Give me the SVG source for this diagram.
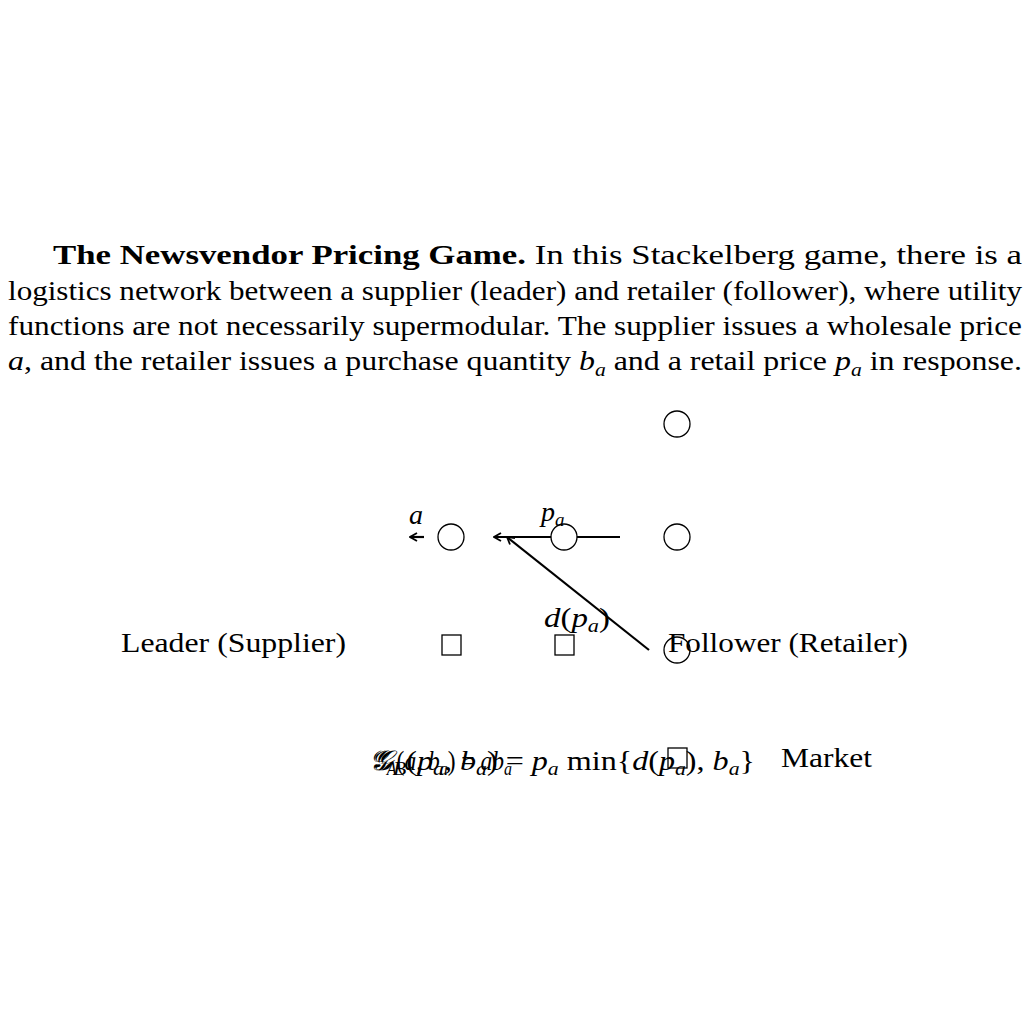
<svg xmlns="http://www.w3.org/2000/svg" width="1024" height="1024" viewBox="0 0 1024 1024">
<style>
text{font-family:"Liberation Serif","DejaVu Serif",serif;fill:#000}
.body{font-size:28px}
.lbl{font-size:28px}
.m{font-style:italic}
.sub{font-size:19px;font-style:italic}
.node{fill:#fff;stroke:#000;stroke-width:1.3}
.edge{stroke:#000;stroke-width:2.2;fill:none}
</style>
<defs>
<marker id="ah" viewBox="0 0 10 10" refX="9" refY="5" markerWidth="10" markerHeight="10" orient="auto" markerUnits="userSpaceOnUse">
<path d="M2,1 L9,5 L2,9" fill="none" stroke="#000" stroke-width="1.8"/>
</marker>
</defs>
<rect width="1024" height="1024" fill="#fff"/>
<g id="title">
<text class="body" x="53" y="264" textLength="969" lengthAdjust="spacingAndGlyphs"><tspan font-weight="bold">The Newsvendor Pricing Game.</tspan> In this Stackelberg game, there is a</text>
<text class="body" x="8" y="300" textLength="1014" lengthAdjust="spacingAndGlyphs">logistics network between a supplier (leader) and retailer (follower), where utility</text>
<text class="body" x="8" y="335" textLength="1014" lengthAdjust="spacingAndGlyphs">functions are not necessarily supermodular. The supplier issues a wholesale price</text>
<text class="body" x="8" y="370" textLength="1014" lengthAdjust="spacingAndGlyphs"><tspan class="m">a</tspan>, and the retailer issues a purchase quantity <tspan class="m">b</tspan><tspan class="sub" dy="6">a</tspan><tspan dy="-6"> and a retail price </tspan><tspan class="m">p</tspan><tspan class="sub" dy="6">a</tspan><tspan dy="-6"> in response.</tspan></text>
</g>
<g id="connectors">
<line class="edge" x1="424" y1="537" x2="410" y2="537" marker-end="url(#ah)"/>
<line class="edge" x1="620" y1="537" x2="494" y2="537" marker-end="url(#ah)"/>
<line class="edge" x1="649" y1="650" x2="507" y2="537" marker-end="url(#ah)"/>
</g>
<g id="n1"><circle class="node" cx="677" cy="424" r="13"/></g>
<g id="n2"><circle class="node" cx="451" cy="537" r="13"/></g>
<g id="n3"><circle class="node" cx="564" cy="537" r="13"/></g>
<g id="n4"><circle class="node" cx="677" cy="537" r="13"/></g>
<g id="n5"><circle class="node" cx="677" cy="650" r="13"/></g>
<g id="s1"><rect class="node" x="442" y="635" width="19" height="20"/></g>
<g id="s2"><rect class="node" x="555" y="635" width="19" height="20"/></g>
<g id="s3"><rect class="node" x="668" y="748" width="19" height="20"/></g>
<g id="labels">
<text class="lbl m" x="409" y="524">a</text>
<text class="lbl" x="541" y="521"><tspan class="m">p</tspan><tspan class="sub" dy="5">a</tspan></text>
<text class="lbl" x="544" y="627" textLength="66" lengthAdjust="spacingAndGlyphs"><tspan class="m">d</tspan>(<tspan class="m">p</tspan><tspan class="sub" dy="5">a</tspan><tspan dy="-5">)</tspan></text>
<text class="lbl" x="121" y="652" textLength="225" lengthAdjust="spacingAndGlyphs">Leader (Supplier)</text>
<text class="lbl" x="668" y="652" textLength="240" lengthAdjust="spacingAndGlyphs">Follower (Retailer)</text>
<text class="lbl" x="781" y="767" textLength="91" lengthAdjust="spacingAndGlyphs">Market</text>
<text class="lbl" x="370" y="770" textLength="385" lengthAdjust="spacingAndGlyphs"><tspan class="m">𝒢</tspan><tspan class="sub" dy="5">B</tspan><tspan dy="-5">(</tspan><tspan class="m">p</tspan><tspan class="sub" dy="5">a</tspan><tspan dy="-5">, </tspan><tspan class="m">b</tspan><tspan class="sub" dy="5">a</tspan><tspan dy="-5">) = </tspan><tspan class="m">p</tspan><tspan class="sub" dy="5">a</tspan><tspan dy="-5"> min{</tspan><tspan class="m">d</tspan>(<tspan class="m">p</tspan><tspan class="sub" dy="5">a</tspan><tspan dy="-5">), </tspan><tspan class="m">b</tspan><tspan class="sub" dy="5">a</tspan><tspan dy="-5">}</tspan></text>
<text class="lbl" x="370" y="770" textLength="142" lengthAdjust="spacingAndGlyphs"><tspan class="m">𝒢</tspan><tspan class="sub" dy="5">A</tspan><tspan dy="-5">(</tspan><tspan class="m">a</tspan>, <tspan class="m">b</tspan><tspan class="sub" dy="5">a</tspan><tspan dy="-5">) = </tspan><tspan class="m">ab</tspan><tspan class="sub" dy="5">a</tspan></text>
</g>
</svg>
